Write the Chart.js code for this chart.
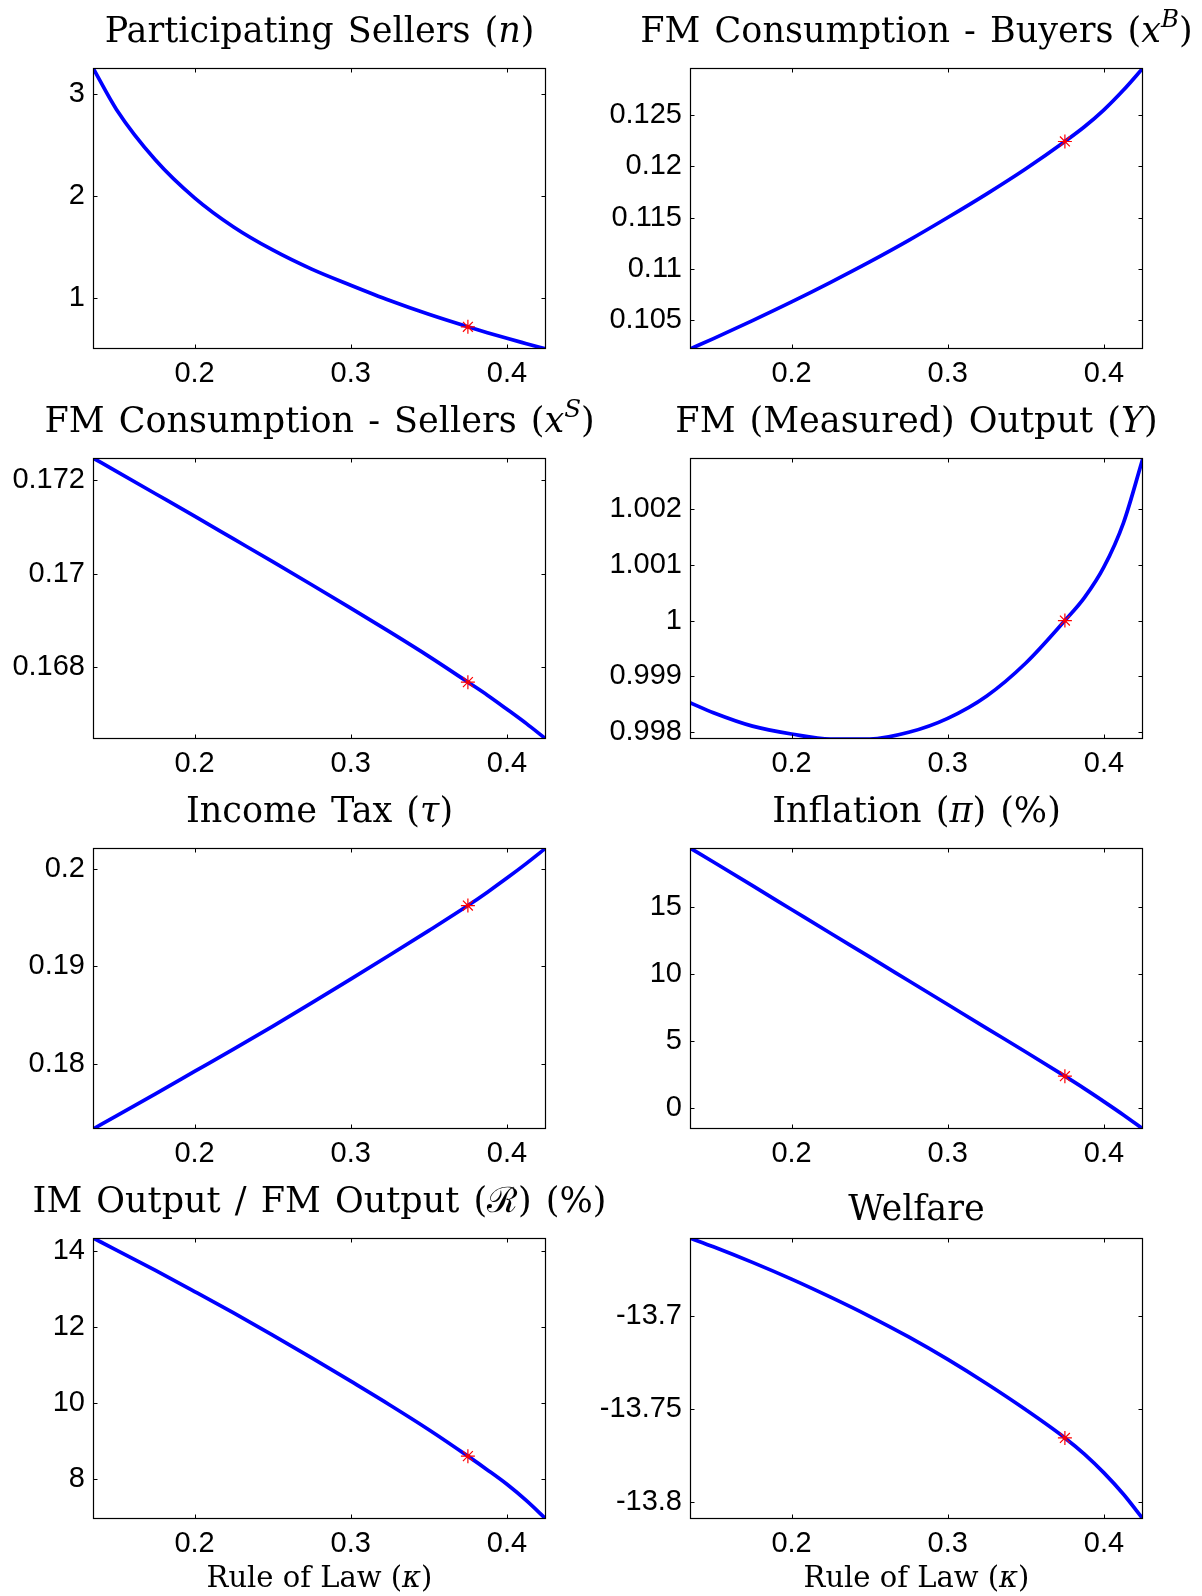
<!DOCTYPE html>
<html><head><meta charset="utf-8">
<script src="https://cdn.jsdelivr.net/npm/chart.js@4.4.1/dist/chart.umd.min.js"></script>
<style>
html,body{margin:0;padding:0;background:#fff;}
#wrap{position:relative;width:1202px;height:1596px;overflow:hidden;background:#fff;}
canvas{position:absolute;}
.ttl{position:absolute;width:800px;font-family:"DejaVu Serif",serif;font-size:35px;line-height:35px;word-spacing:3px;white-space:nowrap;text-align:center;color:#000;}
.xl{position:absolute;width:600px;font-family:"DejaVu Serif",serif;font-size:29px;line-height:29px;white-space:nowrap;text-align:center;color:#000;}
sup{font-size:0.7em;vertical-align:0.6em;line-height:0;}
</style></head><body><div id="wrap"></div>
<script>
// ---- data ----
const kappa = [0.135,0.15,0.175,0.2,0.225,0.25,0.275,0.3,0.325,0.35,0.375,0.3875,0.4,0.4125,0.425];
const sellersN   = [3.252,2.847,2.352,1.982,1.697,1.472,1.2845,1.127,0.977,0.842,0.72,0.6625,0.6075,0.555,0.503];
const buyersXB   = [0.10212,0.10314,0.1049,0.10673,0.10865,0.11065,0.11276,0.115,0.11732,0.11978,0.12245,0.12389,0.12555,0.12749,0.12965];
const sellersXS  = [0.172463,0.172178,0.171701,0.171223,0.170738,0.170253,0.169761,0.169262,0.168756,0.168235,0.167686,0.167408,0.167109,0.166802,0.166474];
const outputY    = [0.99853,0.99835,0.99811,0.99797,0.99788,0.99788,0.998,0.99825,0.99865,0.99924,1.0,1.00041,1.00096,1.00175,1.00291];
const incomeTax  = [0.173356,0.174692,0.176952,0.179247,0.181541,0.18387,0.186267,0.188699,0.191164,0.193664,0.196233,0.197603,0.199041,0.200548,0.202123];
const inflation  = [19.45,18.40,16.63,14.85,13.07,11.30,9.52,7.74,5.96,4.19,2.38,1.45,0.48,-0.52,-1.57];
const imRatio    = [14.334,14.018,13.482,12.928,12.366,11.786,11.188,10.573,9.949,9.299,8.605,8.244,7.866,7.436,6.954];
const welfare    = [-13.6581,-13.6628,-13.6712,-13.6802,-13.6899,-13.7002,-13.7113,-13.7234,-13.7365,-13.7505,-13.7656,-13.7743,-13.7844,-13.7959,-13.8092];

const baselineKappa = 0.375;
const baselineMarks = [0.72,0.12245,0.167686,1.0,0.196233,2.38,8.605,-13.7656];

const xRange = [0.135,0.425];
const xTicks = [0.2,0.3,0.4];
const xTickLabels = ['0.2','0.3','0.4'];

const yTicksList = [
  [1,2,3],
  [0.105,0.11,0.115,0.12,0.125],
  [0.168,0.17,0.172],
  [0.998,0.999,1,1.001,1.002],
  [0.18,0.19,0.2],
  [0,5,10,15],
  [8,10,12,14],
  [-13.8,-13.75,-13.7]
];
const yTickLabelsList = [
  ['1','2','3'],
  ['0.105','0.11','0.115','0.12','0.125'],
  ['0.168','0.17','0.172'],
  ['0.998','0.999','1','1.001','1.002'],
  ['0.18','0.19','0.2'],
  ['0','5','10','15'],
  ['8','10','12','14'],
  ['-13.8','-13.75','-13.7']
];
const titles = [
  'Participating Sellers (<i>n</i>)',
  'FM Consumption - Buyers (<i>x</i><sup><i>B</i></sup>)',
  'FM Consumption - Sellers (<i>x</i><sup><i>S</i></sup>)',
  'FM (Measured) Output (<i>Y</i>)',
  'Income Tax (<i>τ</i>)',
  'Inflation (<i>π</i>) (%)',
  'IM Output / FM Output (ℛ) (%)',
  'Welfare'
];
const xLabel = 'Rule of Law (<i>κ</i>)';
const seriesList = [sellersN,buyersXB,sellersXS,outputY,incomeTax,inflation,imRatio,welfare];

// ---- layout ----
const wrap = document.getElementById('wrap');
const cols = [{cl:0,cw:600,yw:93,pr:54},{cl:600,cw:602,yw:90,pr:59}];
const plotTop0 = 68, rowPitch = 390, plotH = 281, padTop = 36, xAxisH = 50;
const titleBase = [42.7,432.7,822.7,1212.7];

const boxPlugin = {
  id:'boxTicks',
  afterDraw(chart){
    const ctx = chart.ctx, a = chart.chartArea;
    const xs = chart.scales.x, ys = chart.scales.y, L = 4.5;
    ctx.save();
    ctx.strokeStyle = '#000'; ctx.lineWidth = 1;
    ctx.beginPath();
    xs.ticks.forEach(t=>{
      const px = Math.round(xs.getPixelForValue(t.value))+0.5;
      ctx.moveTo(px,a.bottom); ctx.lineTo(px,a.bottom-L);
      ctx.moveTo(px,a.top); ctx.lineTo(px,a.top+L);
    });
    ys.ticks.forEach(t=>{
      const py = Math.round(ys.getPixelForValue(t.value))+0.5;
      ctx.moveTo(a.left,py); ctx.lineTo(a.left+L,py);
      ctx.moveTo(a.right,py); ctx.lineTo(a.right-L,py);
    });
    ctx.stroke();
    ctx.lineWidth = 1.2;
    ctx.strokeRect(a.left+0.5,a.top+0.5,a.right-a.left-1,a.bottom-a.top-1);
    ctx.restore();
  }
};

seriesList.forEach((vals,i)=>{
  const r = Math.floor(i/2), c = i%2, col = cols[c];
  const plotTop = plotTop0 + r*rowPitch;
  const cv = document.createElement('canvas');
  cv.width = col.cw; cv.height = padTop+plotH+xAxisH;
  cv.style.left = col.cl+'px'; cv.style.top = (plotTop-padTop)+'px';
  cv.style.width = col.cw+'px'; cv.style.height = cv.height+'px';
  wrap.appendChild(cv);

  const yT = yTicksList[i], yL = yTickLabelsList[i];
  new Chart(cv.getContext('2d'),{
    type:'line',
    data:{datasets:[
      {data:[{x:baselineKappa,y:baselineMarks[i]}],showLine:false,pointStyle:'star',pointRadius:7,
       pointBorderColor:'#ff0000',pointBackgroundColor:'#ff0000',pointBorderWidth:1.2,borderColor:'#ff0000'},
      {data:kappa.map((k,j)=>({x:k,y:vals[j]})),borderColor:'#0000ff',borderWidth:3.7,pointRadius:0,
       cubicInterpolationMode:'monotone',fill:false,borderCapStyle:'round',borderJoinStyle:'round'}
    ]},
    options:{
      responsive:false,animation:false,devicePixelRatio:1,
      layout:{padding:{top:padTop,right:col.pr,bottom:0,left:0}},
      plugins:{legend:{display:false},tooltip:{enabled:false},title:{display:false}},
      scales:{
        x:{type:'linear',min:xRange[0],max:xRange[1],
           grid:{display:false,drawTicks:false},border:{display:false},
           afterBuildTicks:s=>{s.ticks = xTicks.map(v=>({value:v}));},
           afterFit:s=>{s.height = xAxisH;},
           ticks:{autoSkip:false,maxRotation:0,padding:8,color:'#000',
                  font:{family:'"Liberation Sans", Arial, sans-serif',size:29},
                  callback:(v,idx)=>xTickLabels[idx]}},
        y:{type:'linear',min:Math.min(...vals),max:Math.max(...vals),
           grid:{display:false,drawTicks:false},border:{display:false},
           afterBuildTicks:s=>{s.ticks = yT.map(v=>({value:v}));},
           afterFit:s=>{s.width = col.yw;},
           ticks:{autoSkip:false,padding:8,color:'#000',
                  font:{family:'"Liberation Sans", Arial, sans-serif',size:29},
                  callback:(v,idx)=>yL[idx]}}
      }
    },
    plugins:[boxPlugin]
  });

  const cx = (col.cl+col.yw + col.cw-col.pr + col.cl)/2;
  const t = document.createElement('div');
  t.className='ttl'; t.innerHTML = titles[i];
  const base = (i===7) ? titleBase[r]+8 : titleBase[r];
  t.style.left = (cx-400)+'px'; t.style.top = (base-29.6)+'px';
  wrap.appendChild(t);

  if (r===3){
    const xl = document.createElement('div');
    xl.className='xl'; xl.innerHTML = xLabel;
    xl.style.left=(cx-300)+'px'; xl.style.top=(1587-24.5)+'px';
    wrap.appendChild(xl);
  }
});
</script></body></html>
